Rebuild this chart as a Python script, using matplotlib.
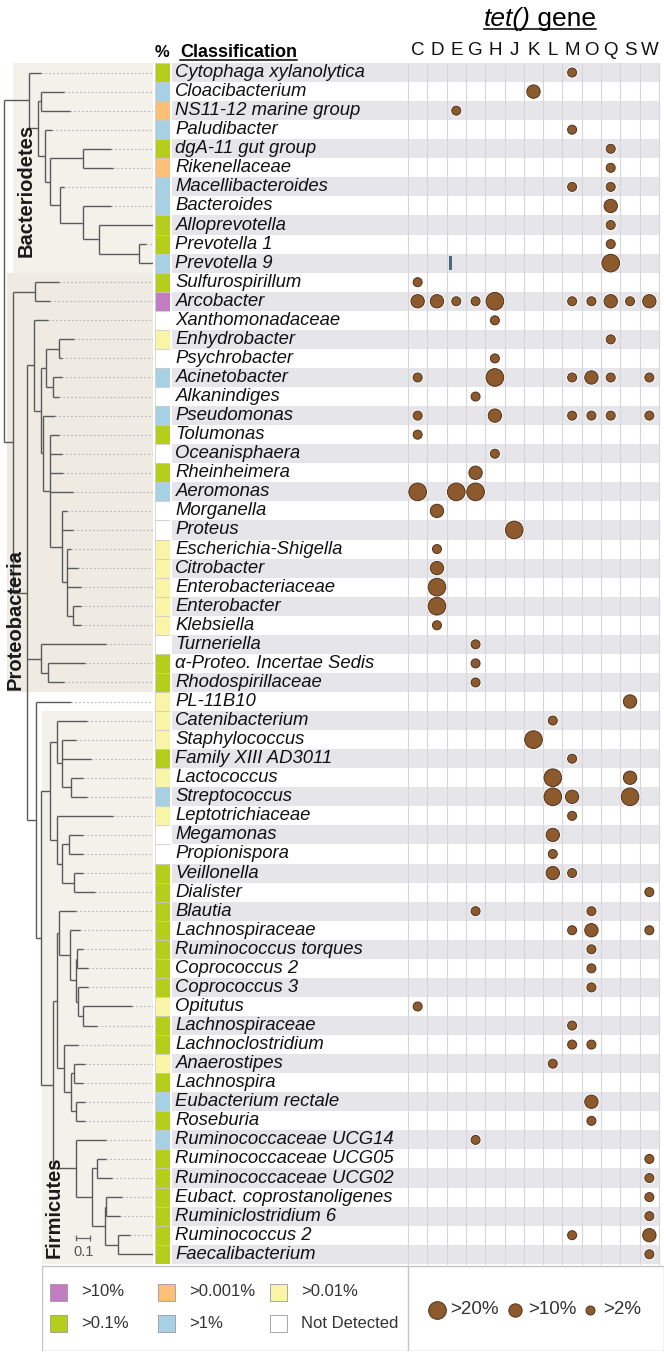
import matplotlib
matplotlib.use("Agg")
import matplotlib.pyplot as plt
from matplotlib.patches import Rectangle
from matplotlib.lines import Line2D
from matplotlib.transforms import blended_transform_factory, IdentityTransform

plt.rcParams['font.family'] = ['Liberation Sans', 'DejaVu Sans']

# ---------------- data ----------------
taxa = [
    "Cytophaga xylanolytica", "Cloacibacterium", "NS11-12 marine group", "Paludibacter",
    "dgA-11 gut group", "Rikenellaceae", "Macellibacteroides", "Bacteroides",
    "Alloprevotella", "Prevotella 1", "Prevotella 9", "Sulfurospirillum", "Arcobacter",
    "Xanthomonadaceae", "Enhydrobacter", "Psychrobacter", "Acinetobacter", "Alkanindiges",
    "Pseudomonas", "Tolumonas", "Oceanisphaera", "Rheinheimera", "Aeromonas", "Morganella",
    "Proteus", "Escherichia-Shigella", "Citrobacter", "Enterobacteriaceae", "Enterobacter",
    "Klebsiella", "Turneriella", "α-Proteo. Incertae Sedis", "Rhodospirillaceae", "PL-11B10",
    "Catenibacterium", "Staphylococcus", "Family XIII AD3011", "Lactococcus", "Streptococcus",
    "Leptotrichiaceae", "Megamonas", "Propionispora", "Veillonella", "Dialister", "Blautia",
    "Lachnospiraceae", "Ruminococcus torques", "Coprococcus 2", "Coprococcus 3", "Opitutus",
    "Lachnospiraceae", "Lachnoclostridium", "Anaerostipes", "Lachnospira",
    "Eubacterium rectale", "Roseburia", "Ruminococcaceae UCG14", "Ruminococcaceae UCG05",
    "Ruminococcaceae UCG02", "Eubact. coprostanoligenes", "Ruminiclostridium 6",
    "Ruminococcus 2", "Faecalibacterium",
]

# relative abundance class: p >10%, b >1%, g >0.1%, y >0.01%, o >0.001%, n not detected
abundance = list("gbobgobbggb" "gpnynbnbgngbnnyyyyyngg" "yyygybynngggggggyggyg" "bgbggggggb")

genes = list("CDEGHJKLMOQSW")
# tet() gene hits per taxon: gene letter + level (1 >2%, 2 >10%, 3 >20%)
tet_hits = [
    "M1", "K2", "E1", "M1", "Q1", "Q1", "M1 Q1", "Q2", "Q1", "Q1", "Q3",
    "C1", "C2 D2 E1 G1 H3 M1 O1 Q2 S1 W2", "H1", "Q1", "H1", "C1 H3 M1 O2 Q1 W1", "G1",
    "C1 H2 M1 O1 Q1 W1", "C1", "H1", "G2", "C3 E3 G3", "D2", "J3", "D1", "D2", "D3", "D3",
    "D1", "G1", "G1", "G1",
    "S2", "L1", "K3", "M1", "L3 S2", "L3 M2 S3", "M1", "L2", "L1", "L2 M1", "W1", "G1 O1",
    "M1 O2 W1", "O1", "O1", "O1", "C1", "M1", "M1 O1", "L1", "", "O2", "O1", "G1", "W1",
    "W1", "W1", "W1", "M1 W2", "W1",
]
odd_mark = ("Prevotella 9", "E")
level_labels = {3: ">20%", 2: ">10%", 1: ">2%"}

# tree: distance of each tip from the root
tip_dist = [
    0.29, 0.46, 0.50, 0.37, 0.79, 0.81, 0.46, 0.79, 1.09, 1.04, 1.09,
    0.42, 0.36, 0.34, 0.53, 0.44, 0.44, 0.42, 0.39, 0.42, 0.44, 0.45, 0.52, 0.48, 0.52,
    0.51, 0.56, 0.58, 0.58, 0.58, 0.76, 0.61, 0.46,
    0.51, 0.62, 0.54, 0.65, 0.59, 0.62, 0.81, 0.59, 0.59, 0.59, 0.68, 0.54, 0.57, 0.59,
    0.63, 0.63, 0.94, 0.69, 0.56, 0.61, 0.59, 0.61, 0.61, 0.76, 0.76, 0.80, 0.87, 0.86,
    0.93, 1.09,
]
# internal nodes: [distance, children...]; leaves are taxon numbers (1-based)
tree = [0.03,
        [0.21, 1,
         [0.27,
          [0.29, 2, 3],
          [0.32, 4,
           [0.36,
            [0.59, 5, 6],
            [0.43, 7,
             [0.59, 8,
              [0.71, 9, [0.99, 10, 11]]]]]]]],
        [0.09,
         [0.25, 12, 13],
         [0.19,
          [0.24, 14,
           [0.29,
            [0.33, [0.42, 15, 16], [0.38, 17, 18]],
            [0.31, 19,
             [0.36, 20, 21, 22, 23,
              [0.44, 24, 25,
               [0.48, 26, 27, 28, [0.52, 29, 30]]]]]]],
          [0.29, 31, [0.34, 32, 33]],
          [0.26, 34,
           [0.29,
            [0.36,
             [0.41, 35, [0.44, 36, 37, [0.51, 38, 39]]],
             [0.41, 40, [0.44, [0.49, 41, 42], [0.53, 43, 44]]]],
            [0.38,
             [0.41,
              [0.42, 45, [0.50, 46, [0.54, [0.55, 47, 48], [0.56, 49, [0.59, 50, 51]]]]],
              [0.46, 52, [0.51, [0.53, 53, 54], [0.54, 55, 56]]]],
             [0.54, 57, [0.66, [0.69, 58, 59], [0.75, [0.76, 60, 61], [0.84, 62, 63]]]]]]]]]]

phyla = ["Bacteriodetes", "Proteobacteria", "Firmicutes"]
phylum_rows = [(1, 11), (12, 33), (35, 63)]

# ---------------- style ----------------
W, H = 666, 1354
ROW_TOP, ROW_H = 63, 19.06
N = len(taxa)
ROW_BOT = ROW_TOP + N * ROW_H
ab_colors = {"p": "#c27cc1", "o": "#fcbf78", "y": "#faf5a6", "g": "#b5ce1c",
             "b": "#a7d0e4", "n": "#ffffff"}
BROWN, BROWN_EDGE = "#8d5a2e", "#4f331d"
STRIPE = "#e6e6ea"
BEIGE = ["#f4f1ea", "#efebe2", "#f4f1ea"]
level_size = {1: 42, 2: 92, 3: 162}

fig = plt.figure(figsize=(W / 100, H / 100), dpi=100)


def row_axes(x0, x1):
    return fig.add_axes([x0 / W, 1 - ROW_BOT / H, (x1 - x0) / W, (ROW_BOT - ROW_TOP) / H])


# label / stripe axes
ax_lab = row_axes(172, 659)
ax_lab.set_xlim(0, 1)
ax_lab.set_ylim(N - 0.5, -0.5)
ax_lab.axis("off")
for i in range(0, N, 2):
    ax_lab.axhspan(i - 0.5, i + 0.5, color=STRIPE, lw=0)
for i, name in enumerate(taxa):
    ax_lab.text(0.007, i, name, transform=ax_lab.get_yaxis_transform(), va="center",
                ha="left", style="italic", fontsize=13.3, color="#111111")

# abundance squares
ax_sq = row_axes(155, 170)
ax_sq.barh(range(N), 1, height=1, left=0, color=[ab_colors[a] for a in abundance],
           edgecolor="#c9c9c9", linewidth=0.5)
ax_sq.set_xlim(0, 1)
ax_sq.set_ylim(N - 0.5, -0.5)
ax_sq.axis("off")

# tree
ax_t = row_axes(0, 153)
XMAX = 153 / 140
ax_t.set_xlim(0, XMAX)
ax_t.set_ylim(N - 0.5, -0.5)
ax_t.axis("off")
xfrac = [13 / 153, 7 / 153, 42 / 153]
for (r0, r1), f, col in zip(phylum_rows, xfrac, BEIGE):
    ax_t.axhspan(r0 - 1.5, r1 - 0.5, xmin=f, xmax=1, color=col, lw=0, zorder=0)

LINE = dict(color="#5a5a5a", lw=1.0, solid_capstyle="butt", zorder=3)


def draw(node, parent_x):
    if isinstance(node, int):
        y = node - 1
        x = tip_dist[y]
        ax_t.plot([parent_x, x], [y, y], **LINE)
        ax_t.plot([x, XMAX], [y, y], color="#b5b5b5", lw=0.8, ls=(0, (1.5, 2)), zorder=2)
        return y
    x = node[0]
    ys = [draw(c, x) for c in node[1:]]
    ax_t.plot([x, x], [min(ys), max(ys)], **LINE)
    y = (min(ys) + max(ys)) / 2
    if parent_x is not None:
        ax_t.plot([parent_x, x], [y, y], **LINE)
    return y


draw(tree, None)

label_x = [26 / 153, 15 / 153, 54 / 153]
label_bottom = [9.7, 32.4, 62.2]
for name, lx, lb in zip(phyla, label_x, label_bottom):
    ax_t.text(lx, lb, name, transform=ax_t.get_yaxis_transform(), rotation=90,
              ha="center", va="bottom", fontsize=14.5, fontweight="bold", color="#1a1a1a")

# scale bar
sb_x, sb_y = 0.545, 61.15
ax_t.plot([sb_x, sb_x + 0.1], [sb_y, sb_y], color="#666666", lw=0.9)
ax_t.plot([sb_x, sb_x + 0.1], [sb_y, sb_y], ls="none", marker="|", ms=5, color="#666666",
          mew=0.9)
ax_t.text(sb_x + 0.05, sb_y + 0.35, "0.1", ha="center", va="top", fontsize=10.5,
          color="#555555")

# bubbles
ax_b = row_axes(408, 659)
ax_b.set_facecolor("none")
ax_b.set_xlim(-0.5, len(genes) - 0.5)
ax_b.set_ylim(N - 0.5, -0.5)
ax_b.axis("off")
for k in range(len(genes) + 1):
    ax_b.axvline(k - 0.5, color="#d6d6da", lw=0.8, clip_on=False, zorder=1)

xs, ys, ss = [], [], []
for i, s in enumerate(tet_hits):
    for tok in s.split():
        xs.append(genes.index(tok[0]))
        ys.append(i)
        ss.append(level_size[int(tok[1])])
halo = [(v ** 0.5 + 2.0) ** 2 for v in ss]
ax_b.scatter(xs, ys, s=halo, c="white", lw=0, zorder=3)
ax_b.scatter(xs, ys, s=ss, c=BROWN, edgecolors=BROWN_EDGE, linewidths=0.7, zorder=4)
mi, mg = taxa.index(odd_mark[0]), genes.index(odd_mark[1])
ax_b.bar(mg - 0.3, 0.7, width=0.2, bottom=mi - 0.35, color="#4a6a82", zorder=4)

# gene letters
tr = blended_transform_factory(ax_b.transData, fig.transFigure)
for k, g in enumerate(genes):
    fig.text(k, 1 - 55 / H, g, transform=tr, ha="center", va="baseline", fontsize=13.5,
             color="#111111")

# headers
fig.text(162 / W, 1 - 57 / H, "%", ha="center", va="baseline", fontsize=12,
         fontweight="bold")
t_cls = fig.text(180 / W, 1 - 57 / H, "Classification", ha="left", va="baseline",
                 fontsize=13, fontweight="bold")
t1 = fig.text(0, 1 - 26 / H, "tet()", ha="left", va="baseline", fontsize=19, style="italic")
t2 = fig.text(0, 1 - 26 / H, " gene", ha="left", va="baseline", fontsize=19)

fig.canvas.draw()
r = fig.canvas.get_renderer()
w1 = t1.get_window_extent(r).width
w2 = t2.get_window_extent(r).width
start = 540 - (w1 + w2) / 2
t1.set_x(start / W)
t2.set_x((start + w1) / W)
ul_y = H - 26 - 3
fig.add_artist(Line2D([start, start + w1 + w2], [ul_y, ul_y], transform=IdentityTransform(),
                      color="black", lw=1.1))
bb = t_cls.get_window_extent(r)
fig.add_artist(Line2D([bb.x0, bb.x1], [H - 57 - 2.5] * 2, transform=IdentityTransform(),
                      color="black", lw=1.1))

# legend
ax_l = fig.add_axes([42 / W, 1 - 1351 / H, 622 / W, 86 / H])
ax_l.set_xlim(0, 622)
ax_l.set_ylim(86, 0)
ax_l.axis("off")
ax_l.add_patch(Rectangle((0.5, 0.5), 621, 85, facecolor="white", edgecolor="#c4c4c4", lw=1))
ax_l.plot([366, 366], [0.5, 85.5], color="#c4c4c4", lw=1)
leg_items = [("p", ">10%"), ("o", ">0.001%"), ("y", ">0.01%"),
             ("g", ">0.1%"), ("b", ">1%"), ("n", "Not Detected")]
col_x = [8, 116, 228]
for j, (code, lab) in enumerate(leg_items):
    cx = col_x[j % 3]
    cy = [27, 58][j // 3]
    ax_l.add_patch(Rectangle((cx, cy - 8.5), 17, 17, facecolor=ab_colors[code],
                             edgecolor="#9a9a9a", lw=0.6))
    ax_l.text(cx + 31, cy, lab, va="center", ha="left", fontsize=12, color="#333333")
bx = [395, 473, 548]
for lv, x in zip([3, 2, 1], bx):
    ax_l.scatter([x], [45], s=level_size[lv], c=BROWN, edgecolors=BROWN_EDGE, linewidths=0.7)
    ax_l.text(x + 13, 45, level_labels[lv], va="center", ha="left", fontsize=13.5,
              color="#333333")

fig.savefig("out.png", dpi=100)
